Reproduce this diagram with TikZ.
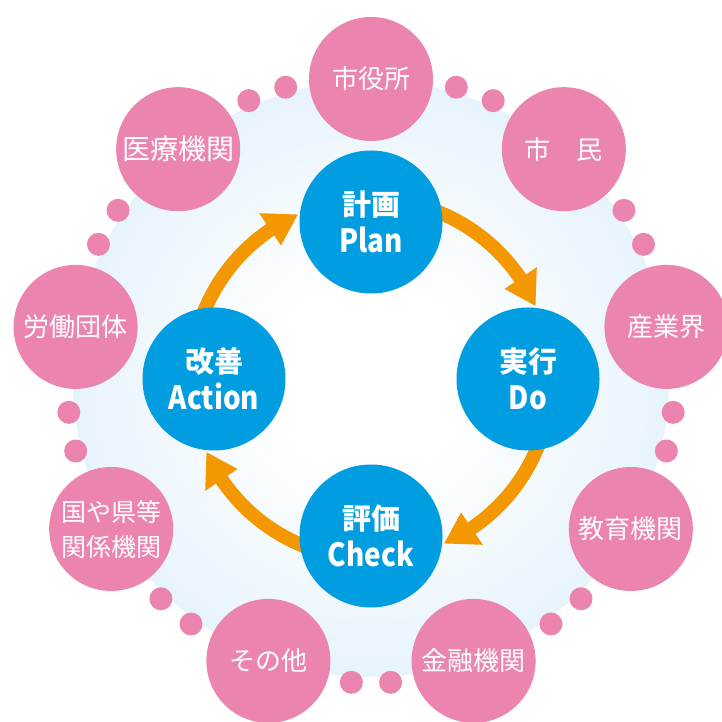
\documentclass[tikz,border=0pt]{standalone}
\usepackage{graphicx}
\usepackage{fontspec}
\setmainfont{Noto Sans CJK JP}
\definecolor{bgblue}{RGB}{196,226,247}
\definecolor{pinkcol}{RGB}{236,132,176}
\definecolor{bluecol}{RGB}{0,158,224}
\definecolor{orangecol}{RGB}{243,152,0}
\pgfdeclareradialshading{bgshade}{\pgfpoint{0bp}{0bp}}{color(0bp)=(white); color(8bp)=(white); color(50bp)=(bgblue)}
\newcommand\latinlbl[1]{\scalebox{0.87}[1]{\fontsize{32}{32}\selectfont #1}}
\begin{document}
\begin{tikzpicture}[x=1pt,y=1pt,
  outerball/.style={circle, fill=pinkcol, minimum size=124pt, inner sep=0pt, text=white, align=center},
  innerball/.style={circle, fill=bluecol, minimum size=143pt, inner sep=0pt, text=white, align=center,
    font=\bfseries\fontsize{29}{37}\selectfont},
  smalldot/.style={circle, fill=pinkcol, minimum size=23pt, inner sep=0pt},
  arrowbody/.style={draw=orangecol, line width=14pt}]
\fill[white] (0,0) rectangle (722,722);
\useasboundingbox (0,0) rectangle (722,722);
\coordinate (C) at (371,343);
\shade[shading=bgshade] (C) circle (298);
% cycle arrows
\foreach \t [count=\i] in {90,0,-90,-180} {
  \coordinate (tip\i) at ([shift={({\t+24}:180)}]C);
  \coordinate (tail\i) at ([shift={({\t+90}:180)}]C);
  \draw[arrowbody] (tail\i) arc[start angle=\t+90, end angle=\t+33, radius=180];
  \fill[orangecol] (tip\i) -- ([shift={({\t+34}:161)}]C) -- ([shift={({\t+34}:200)}]C) -- cycle;
}
% PDCA circles
\node[innerball] (plan) at ([shift={(90:157)}]C) {計画\\\latinlbl{Plan}};
\node[innerball] (do) at ([shift={(0:157)}]C) {実行\\\latinlbl{Do}};
\node[innerball] (check) at ([shift={(-90:157)}]C) {評価\\\latinlbl{Check}};
\node[innerball] (action) at ([shift={(180:157)}]C) {改善\\\latinlbl{Action}};
% small dots
\foreach \a [count=\i] in {70,30,-10,-50,-90,-130,-170,150,110} {
  \node[smalldot] (da\i) at ([shift={({\a+3.7}:304)}]C) {};
  \node[smalldot] (db\i) at ([shift={({\a-3.7}:304)}]C) {};
}
% stakeholders
\foreach \a/\lbl/\fs [count=\i] in {90/市役所/26, 50/市　民/26, 10/産業界/26, -30/教育機関/26,
   -70/金融機関/26, -110/その他/26, -150/{国や県等\\関係機関}/25, 170/労働団体/26, 130/医療機関/28} {
  \node[outerball, font=\fontsize{\fs}{35}\selectfont] (p\i) at ([shift={(\a:300)}]C) {\lbl};
}
\end{tikzpicture}
\end{document}
